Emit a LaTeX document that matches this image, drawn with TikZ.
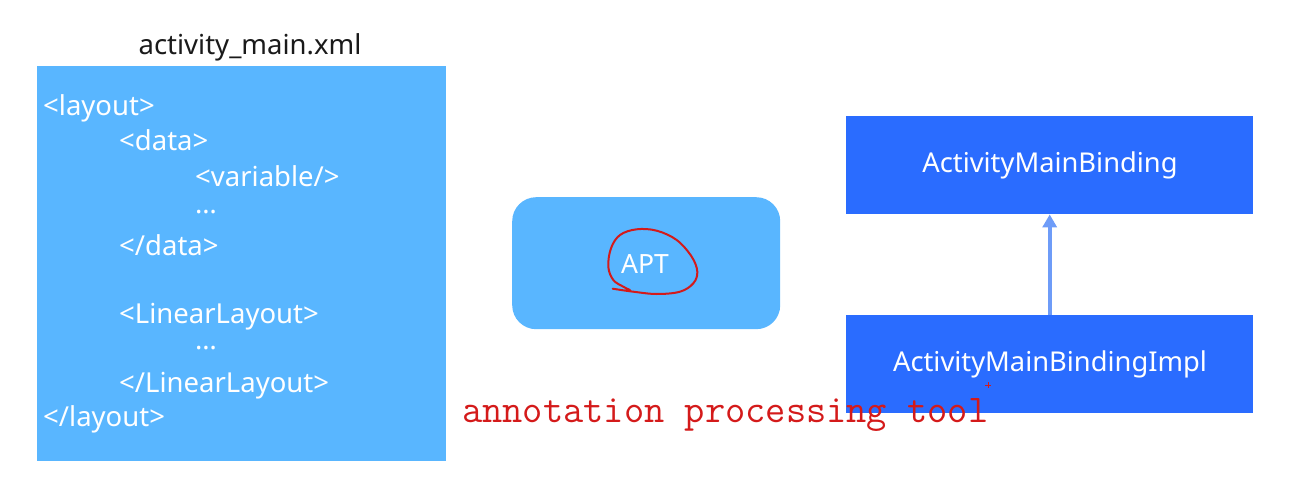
\documentclass[tikz,border=0pt]{standalone}
\usepackage{fontspec}
\setmainfont{Noto Sans}
\usetikzlibrary{arrows.meta}
\definecolor{lightblue}{HTML}{59B6FF}
\definecolor{darkblue}{HTML}{2A6CFF}
\definecolor{arrowblue}{HTML}{6E9CF8}
\definecolor{penred}{HTML}{D41A1A}
\definecolor{titlegray}{HTML}{1A1A1A}
\tikzset{
  codetext/.style={anchor=base west, inner sep=0pt, text=white, font=\fontsize{27.5}{31}\selectfont},
  lightbox/.style={fill=lightblue, draw=none},
  darkbox/.style={fill=darkblue, draw=none, text=white, font=\fontsize{27.3}{31}\selectfont},
}
\begin{document}
\begin{tikzpicture}[x=1pt,y=-1pt]
\useasboundingbox (0,0) rectangle (1293,500);
% left xml box
\node[lightbox, minimum width=409pt, minimum height=395pt, inner sep=0pt, anchor=north west] (xml) at (37,66) {};
\node[anchor=base, inner sep=0pt, text=titlegray, font=\fontsize{27.5}{31}\selectfont] (title) at (250,55) {activity\_main.xml};
\node[codetext] (l1) at (43,116) {<layout>};
\node[codetext] (l2) at (119,150) {<data>};
\node[codetext] (l3) at (195,186.5) {<variable/>};
\node[codetext] (l4) at (195,213) {…};
\node[codetext] (l5) at (119,255) {</data>};
\node[codetext] (l6) at (119,323) {<LinearLayout>};
\node[codetext] (l7) at (195,349) {…};
\node[codetext] (l8) at (119,392.5) {</LinearLayout>};
\node[codetext] (l9) at (43,426.5) {</layout>};
% APT box
\node[lightbox, rounded corners=24pt, minimum width=268pt, minimum height=132pt, inner sep=0pt, anchor=north west] (apt) at (512,197) {};
\node[anchor=base, inner sep=0pt, text=white, font=\fontsize{26.5}{30}\selectfont] (apttext) at (645,273) {APT};
% hand-drawn red circle
\draw[penred, line width=2pt, line cap=round, line join=round] plot[smooth, tension=0.6] coordinates {
 (612.7,288.7) (633.3,291.7) (656.7,294) (680,291.7) (693.3,283.3) (697.3,271.7)
 (691.7,256.7) (676.7,240) (656.7,230.7) (636.7,229.3) (620,235) (611,248.3)
 (608.3,266.7) (613.3,280) (623.3,286.7) (630,290)};
% right boxes
\node[darkbox, minimum width=407pt, minimum height=98pt, inner sep=0pt, anchor=north west] (binding) at (846,116) {};
\node[darkbox, anchor=center, inner sep=0pt] (bindingtext) at (1050,165) {ActivityMainBinding};
\node[darkbox, minimum width=407pt, minimum height=98pt, inner sep=0pt, anchor=north west] (impl) at (846,315) {};
\node[darkbox, anchor=center, inner sep=0pt] (impltext) at (1050,364) {ActivityMainBindingImpl};
\draw[arrowblue, line width=4pt, -{Triangle[length=13pt, width=14pt]}] (impl.north) -- (binding.south);
% red annotation
\node[anchor=base west, inner sep=0pt, text=penred, font=\ttfamily\fontsize{39.3}{43}\selectfont] (note) at (462,422) {annotation processing tool};
\draw[penred, line width=1pt] (985,385) -- (991,385) (988,382) -- (988,388);
\end{tikzpicture}
\end{document}
